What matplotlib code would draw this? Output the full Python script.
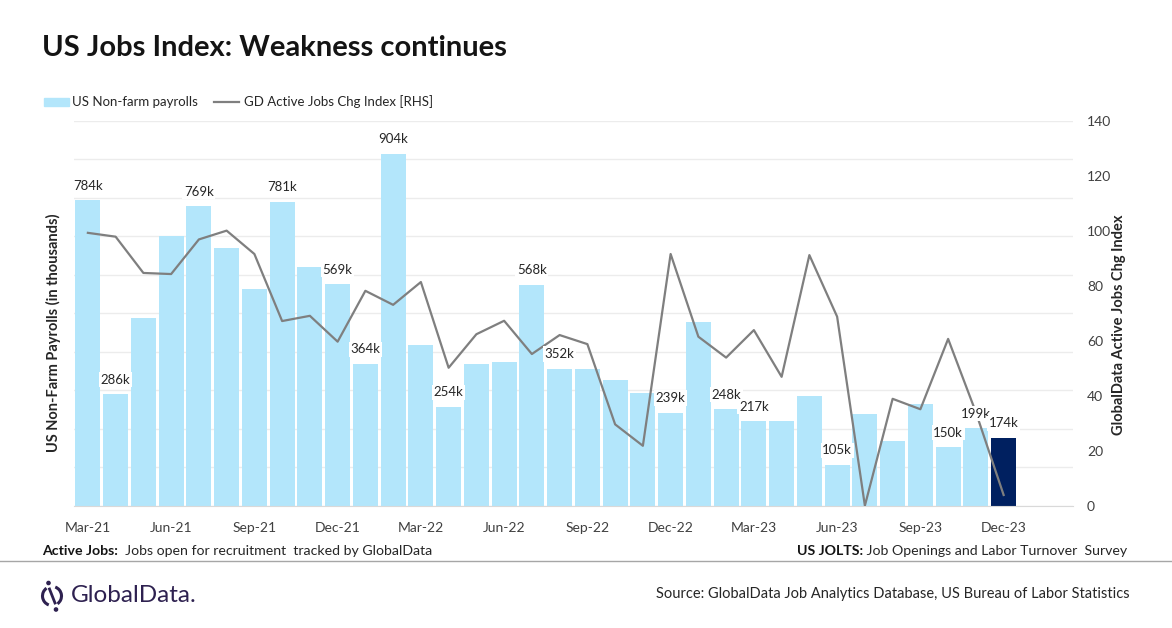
import matplotlib
matplotlib.use('Agg')
import matplotlib.pyplot as plt
import numpy as np
from matplotlib.patches import Arc, Circle, Rectangle
from matplotlib.lines import Line2D

plt.rcParams['font.family'] = ['Lato', 'DejaVu Sans']

# ---------------- data ----------------
months = ['Mar-21', 'Apr-21', 'May-21', 'Jun-21', 'Jul-21', 'Aug-21', 'Sep-21', 'Oct-21',
          'Nov-21', 'Dec-21', 'Jan-22', 'Feb-22', 'Mar-22', 'Apr-22', 'May-22', 'Jun-22',
          'Jul-22', 'Aug-22', 'Sep-22', 'Oct-22', 'Nov-22', 'Dec-22', 'Jan-23', 'Feb-23',
          'Mar-23', 'Apr-23', 'May-23', 'Jun-23', 'Jul-23', 'Aug-23', 'Sep-23', 'Oct-23',
          'Nov-23', 'Dec-23', 'Jan-24', 'Feb-24']
payrolls = [784, 286, 482, 693, 769, 662, 557, 781, 613, 569,
            364, 904, 413, 254, 364, 369, 568, 352, 350, 323, 290, 239,
            472, 248, 217, 217, 282, 105, 236, 166, 261, 150, 199, 174,
            np.nan, np.nan]
active_index = [99.3, 97.9, 84.7, 84.3, 96.9, 100.1, 91.6, 67.2, 69.1, 59.7,
                78.2, 73.1, 81.4, 50.2, 62.4, 67.3, 55.2, 62.1, 58.8, 29.6, 21.8, 91.6,
                61.5, 53.9, 63.9, 46.9, 91.2, 68.8, 0.0, 38.9, 35.1, 60.7, 34.0, 3.9,
                np.nan, np.nan]
labeled_months = ['Mar-21', 'Apr-21', 'Jul-21', 'Oct-21', 'Dec-21', 'Jan-22', 'Feb-22',
                  'Apr-22', 'Jul-22', 'Aug-22', 'Dec-22', 'Feb-23', 'Mar-23', 'Jun-23',
                  'Oct-23', 'Nov-23', 'Dec-23']
highlight_month = 'Dec-23'
tick_months = ['Mar-21', 'Jun-21', 'Sep-21', 'Dec-21', 'Mar-22', 'Jun-22', 'Sep-22',
               'Dec-22', 'Mar-23', 'Jun-23', 'Sep-23', 'Dec-23']

# ---------------- style ----------------
LIGHT = '#b3e6fb'
DARK = '#002060'
LINEC = '#7f7f7f'
GRID = '#ececec'
TXT = '#262626'
TICK = '#404040'

W, H = 1172, 628
fig = plt.figure(figsize=(W / 100, H / 100), dpi=100)

x0, x1, yb, yt = 74, 1073, 505.7, 121
ax = fig.add_axes([x0 / W, 1 - yb / H, (x1 - x0) / W, (yb - yt) / H])
x = np.arange(len(months))
colors = [DARK if m == highlight_month else LIGHT for m in months]
ax.bar(x, payrolls, width=0.9, color=colors, zorder=2)
ax.set_xlim(-0.5, len(months) - 0.5)
ax.set_ylim(0, 988)
ax.set_yticks(np.linspace(0, 988, 11))
ax.set_yticklabels([])
ax.tick_params(axis='y', length=0)
ax.grid(axis='y', color=GRID, linewidth=1, zorder=0)
ax.set_axisbelow(True)
for s in ['top', 'right', 'left']:
    ax.spines[s].set_visible(False)
ax.spines['bottom'].set_color('#d9d9d9')
ax.set_xticks([months.index(m) for m in tick_months])
ax.set_xticklabels(tick_months, fontsize=10, color=TICK)
ax.tick_params(axis='x', length=0, pad=12)
ax.set_ylabel('US Non-Farm Payrolls (in thousands)', fontsize=10.5, fontweight='bold',
              color=TXT)
ax.yaxis.set_label_coords(-0.013, 0.45)

ax2 = ax.twinx()
ax2.plot(x, active_index, color=LINEC, linewidth=1.6, zorder=3)
ax2.set_ylim(0, 140)
ax2.set_yticks(np.arange(0, 141, 20))
ax2.tick_params(axis='y', length=0, pad=10, labelsize=10, labelcolor=TICK)
for s in ['top', 'right', 'left', 'bottom']:
    ax2.spines[s].set_visible(False)
ax2.set_ylabel('GlobalData Active Jobs Chg Index', fontsize=10.5, fontweight='bold',
               color=TXT)
ax2.yaxis.set_label_coords(1.039, 0.47)

# data labels (on top of line, white background)
for m in labeled_months:
    i = months.index(m)
    ax2.annotate(f'{payrolls[i]:.0f}k', xy=(x[i], payrolls[i]), xycoords=ax.transData,
                 xytext=(0, 10.5), textcoords='offset points', ha='center', va='center',
                 fontsize=9.5, color=TXT, zorder=5,
                 bbox=dict(boxstyle='square,pad=0.12', fc='white', ec='none'))

# ---------------- overlay (pixel coordinates) ----------------
ov = fig.add_axes([0, 0, 1, 1], zorder=10)
ov.set_xlim(0, W)
ov.set_ylim(H, 0)
ov.axis('off')
ov.patch.set_alpha(0)

ov.text(42, 48, 'US Jobs Index: Weakness continues', fontsize=21, fontweight='bold',
        color='#141414', ha='left', va='center')

# legend
ov.add_patch(Rectangle((44, 97.5), 25, 8.5, color=LIGHT))
ov.text(72, 102, 'US Non-farm payrolls', fontsize=9.5, color=TXT, va='center')
ov.add_line(Line2D([214, 239], [102, 102], color=LINEC, linewidth=1.6))
ov.text(244, 102, 'GD Active Jobs Chg Index [RHS]', fontsize=9.5, color=TXT, va='center')

# footnotes
t1 = ov.text(42, 551, 'Active Jobs:', fontsize=10.2, fontweight='bold', color='#141414',
             va='center')
ov.annotate('  Jobs open for recruitment  tracked by GlobalData', xy=(1, 0.5),
            xycoords=t1, va='center', ha='left', fontsize=10.2, color=TXT)
t2 = ov.text(1127, 551, ' Job Openings and Labor Turnover  Survey', fontsize=10.2,
             color=TXT, va='center', ha='right')
ov.annotate('US JOLTS:', xy=(0, 0.5), xycoords=t2, va='center', ha='right',
            fontsize=10.2, fontweight='bold', color='#141414')

ov.add_line(Line2D([0, W], [561, 561], color='#a6a6a6', linewidth=1))

# logo
PURP = '#2e2150'
ov.add_patch(Arc((52, 596), 19, 19, theta1=110, theta2=235, color=PURP, linewidth=2.2))
ov.add_patch(Arc((52, 596), 19, 19, theta1=-70, theta2=55, color=PURP, linewidth=2.2))
ov.add_line(Line2D([49.5, 55], [589, 603], color=PURP, linewidth=2.0))
ov.add_patch(Circle((48.5, 583), 1.6, color=PURP))
ov.add_patch(Circle((56, 609.5), 1.6, color=PURP))
ov.text(71, 596, 'GlobalData.', fontsize=17.5, color=PURP, va='center', ha='left')

ov.text(1130, 594, 'Source: GlobalData Job Analytics Database, US Bureau of Labor Statistics',
        fontsize=10.5, color=TXT, ha='right', va='center')

fig.savefig('out.png', dpi=100, facecolor='white')
